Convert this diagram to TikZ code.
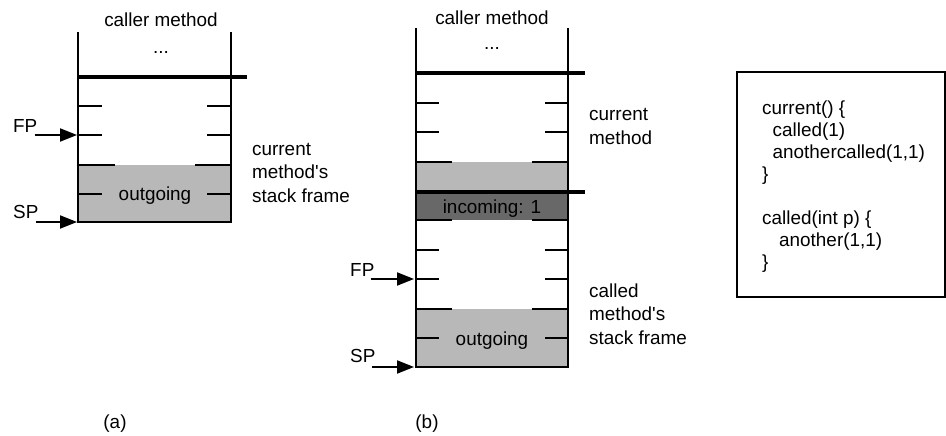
\documentclass[tikz,border=0pt]{standalone}
\usepackage{fontspec}
\setmainfont{Liberation Sans}
\usetikzlibrary{arrows.meta}
\definecolor{slotgray}{RGB}{184,184,184}
\definecolor{incgray}{RGB}{104,104,104}

\begin{document}
\begin{tikzpicture}[x=1pt,y=-1pt,
  wall/.style={line width=2pt},
  boundary/.style={line width=4pt},
  tickline/.style={line width=2pt},
  ptr/.style={line width=2pt,-{Triangle[length=17pt,width=13pt]}},
  lbl/.style={font=\fontsize{18.9}{23.5}\selectfont, inner sep=0pt},
  side/.style={lbl, align=left, anchor=base west},
  code/.style={font=\fontsize{18.9}{22}\selectfont, inner sep=0pt, align=left, anchor=base west},
]
\useasboundingbox (0,0) rectangle (946,436);

% ---------------- (a) current method only ----------------
\fill[slotgray] (78,165) rectangle (231,222);
\draw[wall] (78,32) -- (78,223);
\draw[wall] (231,32) -- (231,223);
\draw[boundary] (77,77) -- (247,77);
\draw[wall] (77,222) -- (232,222);
\foreach \y in {106,135,194} {
  \draw[tickline] (78,\y) -- (102,\y);
  \draw[tickline] (207,\y) -- (231,\y);
}
\draw[tickline] (78,165) -- (115,165);
\draw[tickline] (195,165) -- (231,165);

\node[lbl, anchor=base] (callerA) at (161,27) {caller method};
\node[lbl, anchor=base] (dotsA) at (161,54) {...};
\node[lbl, anchor=base] (outA) at (155,200) {outgoing};
% multi-line labels: the base anchor sits on the last line
\node[side] (frameA) at (252,202) {current\\method\textquotesingle s\\stack frame};

\coordinate (fpA) at (77,135);
\coordinate (spA) at (77,222);
\node[lbl, anchor=base west] (fpTextA) at (13,132) {FP};
\node[lbl, anchor=base west] (spTextA) at (13,218) {SP};
\draw[ptr] (fpTextA.base east |- fpA) ++(-3,0) -- (fpA);
\draw[ptr] (spTextA.base east |- spA) ++(-3,0) -- (spA);

\node[lbl, anchor=base] (capA) at (115,428) {(a)};

% ---------------- (b) after the call ----------------
\fill[slotgray] (416,162) rectangle (568,192);
\fill[incgray] (416,192) rectangle (568,220);
\fill[slotgray] (416,309) rectangle (568,367);
\draw[wall] (416,28) -- (416,368);
\draw[wall] (568,28) -- (568,368);
\draw[boundary] (415,73) -- (585,73);
\draw[boundary] (415,192) -- (585,192);
\draw[wall] (415,367) -- (569,367);
\foreach \y in {103,132,250,279,338} {
  \draw[tickline] (416,\y) -- (439,\y);
  \draw[tickline] (545,\y) -- (568,\y);
}
\foreach \y in {162,220,309} {
  \draw[tickline] (416,\y) -- (452,\y);
  \draw[tickline] (532,\y) -- (568,\y);
}

\node[lbl, anchor=base] (callerB) at (492,25) {caller method};
\node[lbl, anchor=base] (dotsB) at (492,50) {...};
\node[lbl, anchor=base] (incB) at (492,213) {incoming: 1};
\node[lbl, anchor=base] (outB) at (492,345) {outgoing};
\node[side] (curB) at (589,144) {current\\method};
\node[side] (frameB) at (589,344) {called\\method\textquotesingle s\\stack frame};

\coordinate (fpB) at (414,279);
\coordinate (spB) at (414,367);
\node[lbl, anchor=base west] (fpTextB) at (350,276) {FP};
\node[lbl, anchor=base west] (spTextB) at (350,362) {SP};
\draw[ptr] (fpTextB.base east |- fpB) ++(-4,0) -- (fpB);
\draw[ptr] (spTextB.base east |- spB) ++(-4,0) -- (spB);

\node[lbl, anchor=base] (capB) at (427,428) {(b)};

% ---------------- source of the two methods ----------------
\draw[line width=2pt] (737,72) rectangle (944.5,297);
\node[code] (src) at (762,268) {%
current() \{\\
\hspace*{10.5pt}called(1)\\
\hspace*{10.5pt}anothercalled(1,1)\\
\}\\[22pt]
called(int p) \{\\
\hspace*{17pt}another(1,1)\\
\}};
\end{tikzpicture}
\end{document}
